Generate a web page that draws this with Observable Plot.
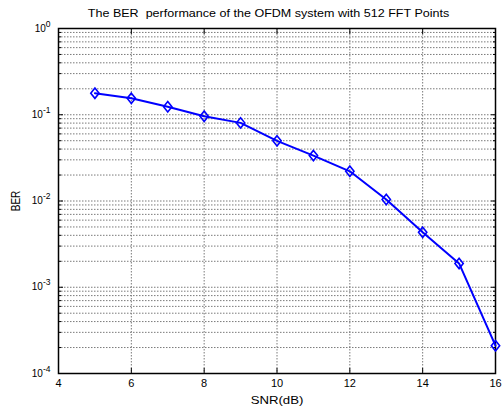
<!DOCTYPE html>
<html><head><meta charset="utf-8">
<script src="https://cdn.jsdelivr.net/npm/d3@7"></script>
<script src="https://cdn.jsdelivr.net/npm/@observablehq/plot@0.6"></script>
<style>
body{margin:0;background:#fff;font-family:"Liberation Sans",Arial,sans-serif;}
#title{width:468px;padding-left:35px;height:20px;line-height:26px;font-size:11px;text-align:center;white-space:pre;color:#000;}
#title span{display:inline-block;transform:scaleX(1.14);transform-origin:center;}
</style></head><body>
<div id="title"><span>The BER  performance of the OFDM system with 512 FFT Points</span></div>
<div id="chart"></div>
<script>
const snr = [5, 6, 7, 8, 9, 10, 11, 12, 13, 14, 15, 16];
const ber = [0.178, 0.155, 0.124, 0.096, 0.0805, 0.0498, 0.0336, 0.0221, 0.0104, 0.00433, 0.00189, 0.000210];
const xTicks = [4, 6, 8, 10, 12, 14, 16];
const yDecades = [1e-4, 1e-3, 1e-2, 1e-1, 1];
const yMinorFactors = [2, 3, 4, 5, 6, 7, 8, 9];

const yMinor = yDecades.slice(0, -1).flatMap(d => yMinorFactors.map(f => +(f * d).toPrecision(3)));
const yAll = [...yDecades, ...yMinor];
const data = snr.map((s, i) => ({snr: s, ber: ber[i]}));

const matlabDiamond = {
  draw(ctx, size) {
    const r = Math.sqrt(size / Math.PI);
    const w = r * 0.8;
    ctx.moveTo(0, -r); ctx.lineTo(w, 0); ctx.lineTo(0, r); ctx.lineTo(-w, 0); ctx.closePath();
  }
};
const gridStyle = {stroke: "#7a7a7a", strokeOpacity: 1, strokeWidth: 1, strokeDasharray: "1.5,1.5"};
const blank = () => "";

const chart = Plot.plot({
  width: 503,
  height: 388,
  marginLeft: 58,
  marginRight: 8,
  marginTop: 8,
  marginBottom: 35,
  style: {fontFamily: "'Liberation Sans', Arial, sans-serif", fontSize: "11px", color: "#000", background: "#fff"},
  x: {domain: [4, 16]},
  y: {type: "log", domain: [1e-4, 1]},
  marks: [
    Plot.gridX(xTicks, gridStyle),
    Plot.gridY(yAll, gridStyle),
    Plot.axisX({anchor: "bottom", ticks: xTicks, tickSize: -5, tickFormat: blank, label: null}),
    Plot.axisX({anchor: "top", ticks: xTicks, tickSize: -5, tickFormat: blank, label: null}),
    Plot.axisY({anchor: "left", ticks: yDecades, tickSize: -5, tickFormat: blank, label: null}),
    Plot.axisY({anchor: "right", ticks: yDecades, tickSize: -5, tickFormat: blank, label: null}),
    Plot.axisY({anchor: "left", ticks: yMinor, tickSize: -3, tickFormat: blank, label: null}),
    Plot.axisY({anchor: "right", ticks: yMinor, tickSize: -3, tickFormat: blank, label: null}),
    Plot.axisX({anchor: "bottom", ticks: xTicks, tickSize: 0, tickPadding: 6, tickFormat: d => String(d),
      label: "SNR(dB)", labelAnchor: "center", labelArrow: "none", labelOffset: 30}),
    Plot.axisY({anchor: "left", ticks: yDecades, tickSize: 0, tickPadding: 8,
      tickFormat: d => "10^" + Math.round(Math.log10(d)),
      label: "BER", labelAnchor: "center", labelArrow: "none", labelOffset: 47, fontSize: 10}),
    Plot.frame({stroke: "#000", strokeWidth: 1.5}),
    Plot.line(data, {x: "snr", y: "ber", stroke: "#0000ff", strokeWidth: 2}),
    Plot.dot(data, {x: "snr", y: "ber", symbol: matlabDiamond, r: 5.2, stroke: "#0000ff", strokeWidth: 1.6, fill: "none"})
  ]
});

// render superscript exponents on the log tick labels
chart.querySelectorAll("text").forEach(t => {
  const s = t.textContent;
  const m = /^10\^(-?\d+)$/.exec(s);
  if (m) {
    t.textContent = "";
    const base = document.createElementNS("http://www.w3.org/2000/svg", "tspan");
    base.textContent = "10";
    const exp = document.createElementNS("http://www.w3.org/2000/svg", "tspan");
    exp.textContent = m[1];
    exp.setAttribute("dy", "-5");
    exp.setAttribute("font-size", "8.5px");
    t.appendChild(base);
    t.appendChild(exp);
  }
});
// the reference's axis titles are slightly wider than tall
chart.querySelectorAll('g[aria-label="x-axis label"] text').forEach(t => {
  const tr = t.getAttribute("transform") || "";
  t.setAttribute("transform", tr + " scale(1.2,1)");
});
chart.querySelectorAll('g[aria-label="y-axis label"] text').forEach(t => {
  const tr = t.getAttribute("transform") || "";
  t.setAttribute("transform", tr + " scale(1,1.2)");
});
document.getElementById("chart").appendChild(chart);
</script>
</body></html>
